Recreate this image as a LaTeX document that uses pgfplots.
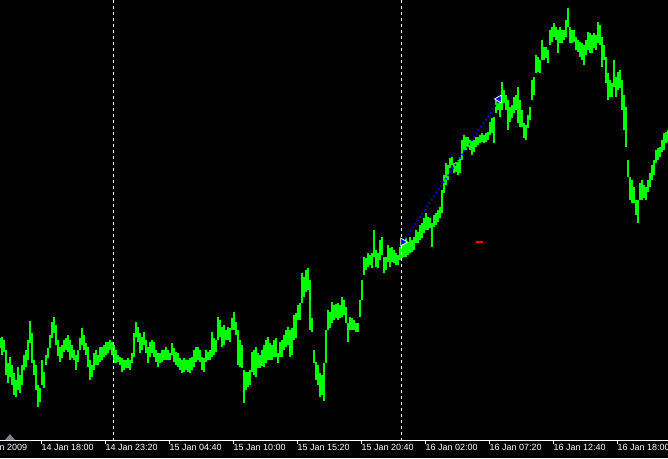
\documentclass[border=0pt]{standalone}
\usepackage{fontspec}
\setmainfont{Liberation Sans}
\usepackage{pgfplots}
\pgfplotsset{compat=1.18}
\usepackage{pgfplotstable}
\definecolor{lime}{RGB}{0,255,0}
\definecolor{mtblue}{RGB}{0,0,255}
\definecolor{shiftgray}{RGB}{120,132,145}
\pgfplotstableread{
x t b
0 338 348
2 337 355
4 340 352
6 350 375
8 363 383
10 357 377
12 365 385
14 373 395
16 380 397
18 367 390
20 375 393
22 365 385
24 355 370
26 350 367
28 340 360
30 321 343
32 333 363
34 360 375
36 365 390
38 385 407
40 388 402
42 360 385
44 372 388
46 355 365
48 348 358
50 335 348
52 322 338
54 317 333
56 325 345
58 340 356
60 347 362
62 345 358
64 340 352
66 338 350
68 335 352
70 340 360
72 345 358
74 350 360
76 355 370
78 350 362
80 338 350
82 328 345
84 335 350
86 343 355
88 347 367
90 360 380
92 365 377
94 353 370
96 350 365
98 355 365
100 347 362
102 347 360
104 345 357
106 342 355
108 342 353
110 340 350
112 342 355
114 345 363
116 350 363
118 355 362
120 357 365
122 358 372
124 360 370
126 360 368
128 358 368
130 360 370
132 353 363
134 333 357
136 322 337
138 327 342
140 333 353
142 337 350
144 332 345
146 340 353
148 347 363
150 342 357
152 340 353
154 342 357
156 350 362
158 353 367
160 353 363
162 350 362
164 350 360
166 347 360
168 350 360
170 353 360
172 343 355
174 348 362
176 352 365
178 353 367
180 358 370
182 360 373
184 358 372
186 360 370
188 360 372
190 358 373
192 357 370
194 350 367
196 347 362
198 347 360
200 350 362
202 357 370
204 358 372
206 350 362
208 352 360
210 350 360
212 332 357
214 338 355
216 340 352
218 317 340
220 320 337
222 327 347
224 325 345
226 330 340
228 327 340
230 328 342
232 318 330
234 312 330
236 322 335
238 330 365
240 340 367
242 345 368
244 370 403
246 372 390
248 372 387
250 370 385
252 352 372
254 350 375
256 347 377
258 353 368
260 355 368
262 350 366
264 345 367
266 340 363
268 337 360
270 343 360
272 345 360
274 340 357
276 338 357
278 353 363
280 342 357
282 340 357
284 335 350
286 330 347
288 327 345
290 330 357
292 328 355
294 315 340
296 313 338
298 305 320
300 303 320
302 273 303
304 277 297
306 270 292
308 268 290
310 280 330
312 318 332
314 350 363
316 362 380
318 365 385
320 373 397
322 375 395
324 363 401
326 330 363
328 310 330
330 312 328
332 302 323
334 305 320
336 304 318
338 303 320
340 305 318
342 297 317
344 300 315
346 307 323
348 323 342
350 317 330
352 318 330
354 320 330
356 323 332
358 323 332
360 300 317
362 280 300
364 257 275
366 258 270
368 253 267
370 255 265
372 253 268
374 230 257
376 250 267
378 253 268
380 240 260
382 237 255
384 257 273
386 257 270
388 245 262
390 248 267
392 247 262
394 250 263
396 253 265
398 255 265
400 247 260
402 245 258
404 240 257
406 237 257
408 242 255
410 237 253
412 240 252
414 237 250
416 230 243
418 232 243
420 225 240
422 223 238
424 218 233
426 213 230
428 217 230
430 218 228
432 223 247
434 215 227
436 213 225
438 210 222
440 207 218
442 190 213
444 175 193
446 163 185
448 165 180
450 158 168
452 157 165
454 163 173
456 162 172
458 160 175
460 157 173
462 140 160
464 135 150
466 137 150
468 137 147
470 140 150
472 140 155
474 140 152
476 137 147
478 137 145
480 135 143
482 133 142
484 135 143
486 133 142
488 132 140
490 122 135
492 118 133
494 117 143
496 100 113
498 97 110
500 100 117
502 82 110
504 90 103
506 95 110
508 100 130
510 107 122
512 105 118
514 97 113
516 95 110
518 87 123
520 100 127
522 110 127
524 123 138
526 125 140
528 115 128
530 107 120
532 80 100
534 77 95
536 55 73
538 57 72
540 60 73
542 40 60
544 47 60
546 47 58
548 50 63
550 30 45
552 27 42
554 23 37
556 27 40
558 30 53
560 27 43
562 30 43
564 30 40
566 20 37
568 8 27
570 27 43
572 30 43
574 30 42
576 37 50
578 40 52
580 42 57
582 43 60
584 45 65
586 40 55
588 32 50
590 33 53
592 35 53
594 33 48
596 35 50
598 22 43
600 25 45
602 37 67
604 45 60
606 57 83
608 73 100
610 80 97
612 83 97
614 60 87
616 77 97
618 72 90
620 70 88
622 80 110
624 95 130
626 107 147
628 160 177
630 177 200
632 180 203
634 187 203
636 200 215
638 200 223
640 183 200
642 180 200
644 185 198
646 187 200
648 180 192
650 173 187
652 165 180
654 160 175
656 150 163
658 148 160
660 147 157
662 140 152
664 133 150
666 132 143
668 130 142
}\pricedata
\begin{document}
\begin{tikzpicture}[x=1pt,y=1pt]
\fill[black] (0,0) rectangle (668,458);
\begin{axis}[
  at={(0pt,18pt)}, anchor=south west,
  scale only axis, width=668pt, height=440pt,
  xmin=0, xmax=668, ymin=0, ymax=440, y dir=reverse,
  axis x line*=bottom, axis y line=none,
  axis line style={white, line width=0.8pt, -},
  clip mode=individual,
  xtick={41,105,169,233,297,361,425,489,553,617},
  xticklabels={14 Jan 18:00,14 Jan 23:20,15 Jan 04:40,15 Jan 10:00,15 Jan 15:20,15 Jan 20:40,16 Jan 02:00,16 Jan 07:20,16 Jan 12:40,16 Jan 18:00},
  tick align=outside, major tick length=4pt,
  x tick style={white, line width=0.8pt},
  xticklabel style={anchor=north west, inner sep=0pt, text=white, font=\fontsize{9}{10}\selectfont, xshift=0.5pt},
]
\addplot[draw=none, mark=none,
  error bars/.cd, y dir=plus, y explicit, error mark=none,
  error bar style={draw=lime, line width=2.1pt, solid, line cap=butt}]
  table[x=x, y=t, y error expr=\thisrow{b}-\thisrow{t}] {\pricedata};
\addplot[white, line width=0.8pt, dash pattern=on 3pt off 3pt] coordinates {(113,0) (113,440)};
\addplot[white, line width=0.8pt, dash pattern=on 3pt off 3pt] coordinates {(401,0) (401,440)};
\addplot[mtblue, line width=1.6pt, dash pattern=on 1.6pt off 2.6pt] coordinates {(403,242) (500,99)};
\addplot[only marks, mark=triangle*, mark size=4.5pt, mark options={solid, rotate=-90, fill=mtblue, draw=white, line width=0.8pt}] coordinates {(403,242)};
\addplot[only marks, mark=triangle*, mark size=4.5pt, mark options={solid, rotate=90, fill=mtblue, draw=white, line width=0.8pt}] coordinates {(499,99)};
\addplot[red, line width=1.5pt] coordinates {(476,242) (483,242)};
\addplot[fill=shiftgray, draw=none] coordinates {(5,440) (10,434) (15,440)} -- cycle;
\node[anchor=north west, inner sep=0pt, text=white, font=\fontsize{9}{10}\selectfont] at (axis cs:-22.5,444) {14 Jan 2009};
\end{axis}
\pgfresetboundingbox
\useasboundingbox (0,0) rectangle (668,458);
\end{tikzpicture}
\end{document}
